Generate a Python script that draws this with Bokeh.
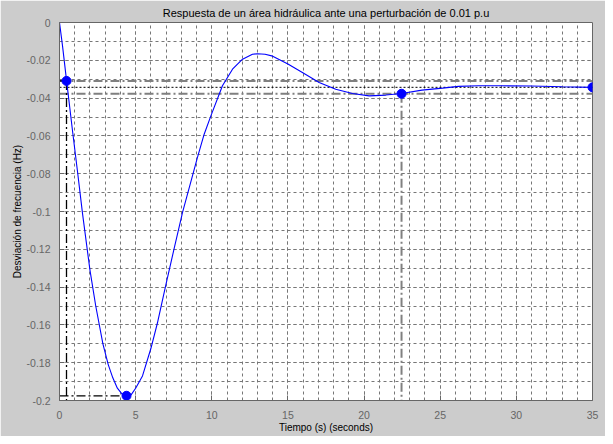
from bokeh.plotting import figure
from bokeh.models import Range1d, FixedTicker, CustomJSTickFormatter
from bokeh.embed import file_html
from bokeh.resources import INLINE

# ---- data ----
t = [0, 0.2, 0.46, 0.85, 1.2, 1.51, 2.0, 2.38, 2.85, 3.2, 3.5, 3.8, 4.1, 4.4, 4.7, 5.0, 5.45,
     6.0, 6.43, 6.98, 7.53, 8.08, 9.06, 9.5, 9.94, 10.7, 11.36, 12.02, 12.67, 13.0,
     13.5, 14.0, 15.0, 15.95, 17.05, 18.14, 19.24, 20.33, 21.43, 22.46, 23.8, 25.15,
     26.2, 27.5, 29.0, 31.0, 33.0, 35.0]
dev = [0, -0.0125, -0.0305, -0.057, -0.080, -0.101, -0.131, -0.150, -0.170, -0.181,
       -0.188, -0.1935, -0.1965, -0.1975, -0.197, -0.1935, -0.187, -0.1725, -0.159, -0.139,
       -0.1195, -0.1005, -0.0714, -0.0591, -0.0494, -0.0335, -0.0247, -0.0194, -0.0168,
       -0.0165, -0.0168, -0.0178, -0.0220, -0.0265, -0.0317, -0.0353, -0.0376, -0.0388,
       -0.0384, -0.0376, -0.0358, -0.0347, -0.0338, -0.0335, -0.0335, -0.0336, -0.0340,
       -0.0343]

rise_t, rise_v = 0.46, -0.0309
peak_t, peak_v = 4.4, -0.1975
settle_t, settle_v = 22.46, -0.0377
final_t, final_v = 35.0, -0.0343
band_low, band_high = -0.0377, -0.0309

x_ticks = [0, 5, 10, 15, 20, 25, 30, 35]
x_minor = list(range(0, 36))
y_ticks = [0, -0.02, -0.04, -0.06, -0.08, -0.1, -0.12, -0.14, -0.16, -0.18, -0.2]
y_minor = [-i / 100 for i in range(0, 21)]

x_min, x_max = 0, 35
y_min, y_max = -0.2, 0

title = "Respuesta de un área hidráulica ante una perturbación de 0.01 p.u"
xlabel = "Tiempo (s) (seconds)"
ylabel = "Desviación de frecuencia (Hz)"

# ---- figure ----
BG = "#cccccc"
AX = "#666666"
FONT = "Liberation Sans"

p = figure(width=605, height=436, x_range=Range1d(x_min, x_max), y_range=Range1d(y_min, y_max),
           output_backend="svg", toolbar_location=None,
           min_border_left=59, min_border_right=13, min_border_top=22, min_border_bottom=36,
           title=title)
p.background_fill_color = "white"
p.border_fill_color = BG
p.outline_line_color = AX
p.outline_line_width = 1

p.title.text_font = FONT
p.title.text_font_size = "11px"
p.title.text_font_style = "normal"
p.title.text_color = "black"
p.title.align = "center"
p.title.standoff = 7

p.xaxis.ticker = FixedTicker(ticks=x_ticks, minor_ticks=x_minor)
p.yaxis.ticker = FixedTicker(ticks=y_ticks, minor_ticks=y_minor)
p.yaxis.formatter = CustomJSTickFormatter(code="return Number(tick.toFixed(2)).toString();")

for ax in (p.xaxis, p.yaxis):
    ax.axis_line_color = AX
    ax.major_tick_line_color = AX
    ax.major_tick_in = 5
    ax.major_tick_out = 0
    ax.minor_tick_line_color = None
    ax.major_label_text_font = FONT
    ax.major_label_text_font_size = "10.5px"
    ax.major_label_text_color = AX
    ax.axis_label_text_font = FONT
    ax.axis_label_text_font_size = "10px"
    ax.axis_label_text_font_style = "normal"
    ax.axis_label_text_color = "black"

p.xaxis.axis_label = xlabel
p.yaxis.axis_label = ylabel
p.xaxis.major_label_standoff = 6
p.xaxis.axis_label_standoff = 0
p.yaxis.major_label_standoff = 5
p.yaxis.axis_label_standoff = 1

for g in (p.xgrid, p.ygrid):
    g.grid_line_color = "#777777"
    g.grid_line_dash = "3 3"
    g.grid_line_width = 1
    g.minor_grid_line_color = "#777777"
    g.minor_grid_line_dash = "3 3"
    g.minor_grid_line_width = 1

# settling band and steady state lines
p.segment(x0=[x_min, x_min], y0=[band_low, band_high], x1=[x_max, x_max], y1=[band_low, band_high],
          line_color="#808080", line_width=2, line_dash="9 3 2 3")
p.segment(x0=[x_min], y0=[final_v], x1=[x_max], y1=[final_v],
          line_color="black", line_width=1, line_dash="2 2")

# characteristic guide lines
p.segment(x0=[x_min, rise_t], y0=[rise_v, rise_v], x1=[rise_t, rise_t], y1=[rise_v, y_min],
          line_color="black", line_width=1.3, line_dash="9 3 2 3")
p.segment(x0=[x_min, peak_t], y0=[peak_v, peak_v], x1=[peak_t, peak_t], y1=[peak_v, y_min],
          line_color="black", line_width=1.3, line_dash="9 3 2 3")
p.segment(x0=[settle_t], y0=[settle_v], x1=[settle_t], y1=[y_min],
          line_color="#808080", line_width=2, line_dash="9 3 2 3")

# response curve
p.line(t, dev, line_color="#0000ff", line_width=1.1)

# markers
p.scatter([rise_t, peak_t, settle_t, final_t], [rise_v, peak_v, settle_v, final_v],
          size=9, fill_color="#0000ff", line_color="#0000ff")

open("out.html", "w").write(file_html(p, INLINE))
